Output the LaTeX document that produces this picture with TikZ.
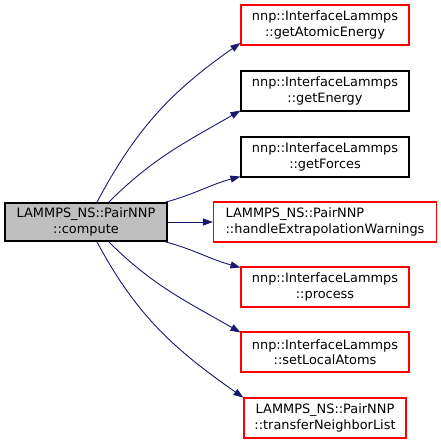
\documentclass[tikz,border=0pt]{standalone}
\usepackage{fontspec}
\setmainfont{DejaVu Sans}
\usepackage{tikz}
\usetikzlibrary{arrows.meta,positioning}
\definecolor{edgeblue}{HTML}{191970}
\definecolor{focusgray}{HTML}{BFBFBF}
\definecolor{boxred}{HTML}{FF0000}

\begin{document}
\begin{tikzpicture}[x=1pt, y=1pt,
  every node/.style={font=\fontsize{12.9}{15.2}\selectfont, align=center, inner sep=2pt},
  fnbox/.style={line width=1.1pt, minimum width=168pt, minimum height=40pt},
  fnblack/.style={fnbox, draw=black},
  fnred/.style={fnbox, draw=boxred},
  focus/.style={fnbox, draw=black, fill=focusgray, minimum width=162pt, minimum height=38pt},
  call/.style={edgeblue, line width=0.9pt, -{Triangle[length=10pt,width=7pt]}}]
\useasboundingbox (0,0) rectangle (441,-444);

% caller
\node[focus] (compute) at (86,-222) {LAMMPS\_NS::PairNNP\\::compute};

% callees (red frame: not all calls shown)
\node[fnred] (atomicE) at (325,-25) {nnp::InterfaceLammps\\::getAtomicEnergy};
\node[fnblack] (energy) at (325,-91) {nnp::InterfaceLammps\\::getEnergy};
\node[fnblack] (forces) at (325,-157) {nnp::InterfaceLammps\\::getForces};
\node[fnred, minimum width=223pt, align=left] (extrap) at (325,-222) {LAMMPS\_NS::PairNNP\\::handleExtrapolationWarnings};
\node[fnred] (process) at (325,-287) {nnp::InterfaceLammps\\::process};
\node[fnred] (setlocal) at (325,-352) {nnp::InterfaceLammps\\::setLocalAtoms};
\node[fnred, minimum width=162pt] (transfer) at (325,-418) {LAMMPS\_NS::PairNNP\\::transferNeighborList};

% call edges
\foreach \tgt/\sa/\oa/\ia/\ea in {atomicE/61/62/215/192, energy/41/45/210/193,
    forces/14.5/15/195/193, process/-14.5/-15/165/167,
    setlocal/-41/-45/150/167, transfer/-61/-62/145/166}{
  \draw[call] (compute.\sa) to[out=\oa, in=\ia] (\tgt.\ea);
}
\draw[call] (compute.east) -- (extrap.west);
\end{tikzpicture}
\end{document}
